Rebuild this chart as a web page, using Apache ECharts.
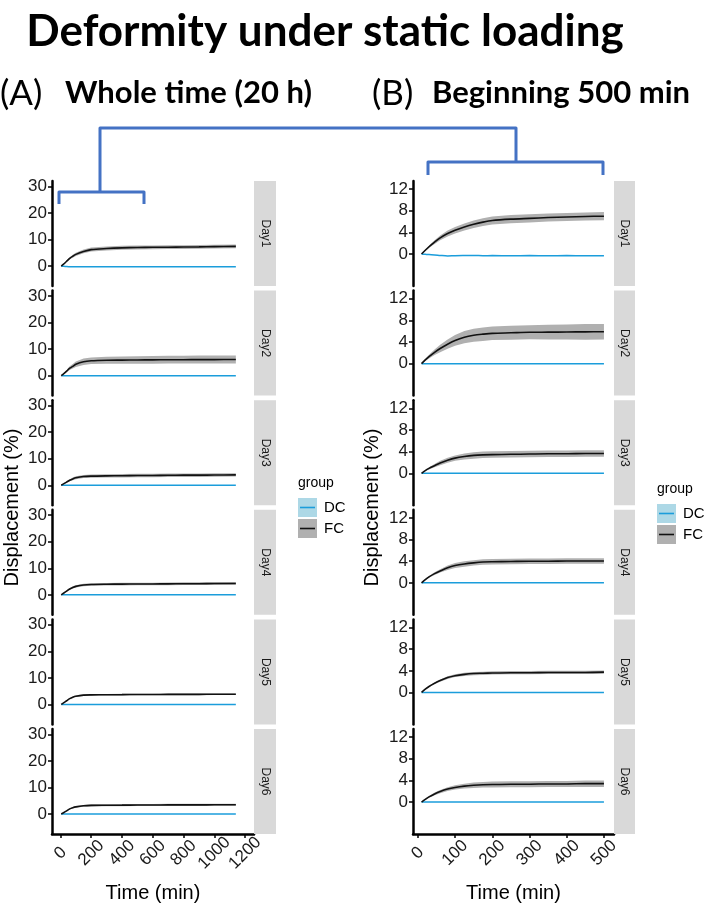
<!DOCTYPE html>
<html><head><meta charset="utf-8">
<script src="https://cdn.jsdelivr.net/npm/echarts@6/dist/echarts.min.js"></script>
<style>html,body{margin:0;padding:0;background:#fff}#c{width:709px;height:907px}</style>
</head><body><div id="c"></div>
<script>
// ---------- DATA ----------
const days = ['Day1', 'Day2', 'Day3', 'Day4', 'Day5', 'Day6'];
const groups = ['DC', 'FC'];

// Panel A: whole time (min)
const timeA = [5, 20, 40, 60, 80, 100, 150, 200, 300, 400, 500, 600, 700, 800, 900, 1000, 1140];
const fcMeanA = [
  [0, 0.7, 1.8, 2.9, 3.7, 4.4, 5.5, 6.2, 6.6, 6.85, 7.0, 7.05, 7.1, 7.15, 7.2, 7.3, 7.4],
  [0, 0.7, 1.7, 2.8, 3.5, 4.3, 5.25, 5.6, 5.8, 5.85, 5.9, 5.95, 6.0, 6.0, 6.05, 6.05, 6.1],
  [0, 0.5, 1.2, 1.9, 2.4, 2.8, 3.3, 3.45, 3.55, 3.6, 3.65, 3.7, 3.75, 3.8, 3.8, 3.85, 3.9],
  [0, 0.6, 1.4, 2.2, 2.8, 3.2, 3.7, 3.9, 4.0, 4.05, 4.1, 4.1, 4.15, 4.2, 4.2, 4.25, 4.3],
  [0, 0.6, 1.4, 2.2, 2.75, 3.1, 3.5, 3.6, 3.65, 3.7, 3.75, 3.75, 3.8, 3.8, 3.8, 3.85, 3.85],
  [0, 0.5, 1.2, 1.95, 2.4, 2.7, 3.1, 3.25, 3.3, 3.35, 3.4, 3.4, 3.45, 3.45, 3.45, 3.5, 3.5]
];
const fcHalfA = [
  [0, 0.15, 0.3, 0.45, 0.55, 0.6, 0.7, 0.75, 0.75, 0.75, 0.75, 0.7, 0.7, 0.7, 0.7, 0.7, 0.7],
  [0, 0.2, 0.45, 0.7, 0.85, 1.0, 1.2, 1.25, 1.3, 1.35, 1.45, 1.45, 1.45, 1.45, 1.5, 1.5, 1.5],
  [0, 0.1, 0.25, 0.4, 0.5, 0.55, 0.6, 0.6, 0.6, 0.65, 0.65, 0.65, 0.65, 0.65, 0.65, 0.65, 0.65],
  [0, 0.1, 0.2, 0.3, 0.4, 0.45, 0.5, 0.5, 0.5, 0.5, 0.5, 0.5, 0.5, 0.5, 0.5, 0.5, 0.5],
  [0, 0.05, 0.1, 0.15, 0.2, 0.25, 0.3, 0.3, 0.3, 0.3, 0.3, 0.3, 0.3, 0.3, 0.3, 0.3, 0.3],
  [0, 0.05, 0.15, 0.2, 0.25, 0.3, 0.35, 0.4, 0.4, 0.4, 0.4, 0.4, 0.4, 0.4, 0.4, 0.4, 0.4]
];
const dcMeanA = [
  [0, -0.1, -0.2, -0.25, -0.3, -0.3, -0.28, -0.3, -0.3, -0.28, -0.3, -0.3, -0.28, -0.3, -0.3, -0.3, -0.3],
  [0, 0, 0, 0, 0, 0, 0, 0, 0, 0, 0, 0, 0, 0, 0, 0, 0],
  [0, 0, 0, 0, 0, 0, 0, 0, 0, 0, 0, 0, 0, 0, 0, 0, 0],
  [0, 0, 0, 0, 0, 0, 0, 0, 0, 0, 0, 0, 0, 0, 0, 0, 0],
  [0, 0, 0, 0, 0, 0, 0, 0, 0, 0, 0, 0, 0, 0, 0, 0, 0],
  [0, 0, 0, 0, 0, 0, 0, 0, 0, 0, 0, 0, 0, 0, 0, 0, 0]
];

// Panel B: beginning 500 min
const timeB = [10, 20, 30, 45, 60, 80, 100, 125, 150, 175, 200, 250, 300, 350, 400, 450, 500];
const fcMeanB = [
  [0, 0.7, 1.35, 2.2, 3.0, 3.8, 4.4, 5.0, 5.5, 5.9, 6.2, 6.45, 6.6, 6.75, 6.85, 6.95, 7.0],
  [0, 0.7, 1.3, 2.1, 2.8, 3.6, 4.3, 4.9, 5.25, 5.45, 5.6, 5.7, 5.8, 5.82, 5.85, 5.88, 5.9],
  [0, 0.5, 0.9, 1.4, 1.9, 2.4, 2.8, 3.1, 3.3, 3.4, 3.45, 3.5, 3.55, 3.6, 3.6, 3.65, 3.65],
  [0, 0.6, 1.1, 1.7, 2.2, 2.8, 3.2, 3.5, 3.7, 3.85, 3.9, 3.95, 4.0, 4.0, 4.05, 4.05, 4.05],
  [0, 0.6, 1.1, 1.7, 2.2, 2.75, 3.1, 3.35, 3.5, 3.55, 3.6, 3.65, 3.65, 3.7, 3.7, 3.7, 3.75],
  [0, 0.5, 0.95, 1.5, 1.95, 2.4, 2.7, 2.95, 3.1, 3.2, 3.25, 3.3, 3.3, 3.35, 3.35, 3.4, 3.4]
];
const fcHalfB = [
  [0, 0.15, 0.25, 0.35, 0.45, 0.55, 0.6, 0.65, 0.7, 0.72, 0.75, 0.75, 0.75, 0.75, 0.75, 0.75, 0.75],
  [0, 0.2, 0.35, 0.5, 0.7, 0.85, 1.0, 1.15, 1.2, 1.25, 1.25, 1.3, 1.3, 1.35, 1.4, 1.45, 1.45],
  [0, 0.1, 0.2, 0.3, 0.4, 0.45, 0.5, 0.55, 0.6, 0.6, 0.6, 0.6, 0.6, 0.6, 0.6, 0.6, 0.6],
  [0, 0.1, 0.15, 0.25, 0.3, 0.4, 0.45, 0.5, 0.5, 0.5, 0.5, 0.5, 0.5, 0.5, 0.5, 0.5, 0.5],
  [0, 0.05, 0.1, 0.15, 0.2, 0.25, 0.25, 0.3, 0.3, 0.3, 0.3, 0.3, 0.3, 0.3, 0.3, 0.3, 0.3],
  [0, 0.1, 0.15, 0.25, 0.3, 0.35, 0.4, 0.45, 0.5, 0.5, 0.55, 0.55, 0.55, 0.55, 0.55, 0.6, 0.6]
];
const dcMeanB = [
  [0, -0.05, -0.1, -0.15, -0.25, -0.35, -0.3, -0.28, -0.27, -0.3, -0.28, -0.3, -0.28, -0.3, -0.28, -0.3, -0.3],
  [0, 0, 0, 0, 0, 0, 0, 0, 0, 0, 0, 0, 0, 0, 0, 0, 0],
  [0, 0, 0, 0, 0, 0, 0, 0, 0, 0, 0, 0, 0, 0, 0, 0, 0],
  [0, 0, 0, 0, 0, 0, 0, 0, 0, 0, 0, 0, 0, 0, 0, 0, 0],
  [0, 0, 0, 0, 0, 0, 0, 0, 0, 0, 0, 0, 0, 0, 0, 0, 0],
  [0, 0, 0, 0, 0, 0, 0, 0, 0, 0, 0, 0, 0, 0, 0, 0, 0]
];

const xTicksA = [0, 200, 400, 600, 800, 1000, 1200];
const yTicksA = [0, 10, 20, 30];
const xTicksB = [0, 100, 200, 300, 400, 500];
const yTicksB = [0, 4, 8, 12];

// ---------- LAYOUT / STYLE ----------
const FACET_TOP = 181, FACET_H = 105, FACET_STEP = 109.6;
const FONT = "'Liberation Sans', Arial, sans-serif";
const TITLE_FONT = "Lato, 'Open Sans', sans-serif";
const BLUE = '#4472C4';
const DC_COLOR = '#1B9DDB';
const FC_COLOR = '#111111';
const RIBBON = '#b0b0b0';

const panels = [
  { left: 52, width: 202, xMin: -55, xMax: 1258, yMin: -7.5, yMax: 32,
    t: timeA, fc: fcMeanA, hw: fcHalfA, dc: dcMeanA, xTicks: xTicksA, yTicks: yTicksA,
    stripX: 254, stripW: 22, legX: 298, legY: 483, yTitleX: 12 },
  { left: 413, width: 201, xMin: -13, xMax: 527, yMin: -5.9, yMax: 13.5,
    t: timeB, fc: fcMeanB, hw: fcHalfB, dc: dcMeanB, xTicks: xTicksB, yTicks: yTicksB,
    stripX: 614, stripW: 21, legX: 657, legY: 489, yTitleX: 372 }
];

const grid = [], xAxis = [], yAxis = [], series = [], graphic = [];

panels.forEach((p, pi) => {
  days.forEach((day, d) => {
    const gi = pi * days.length + d;
    const top = FACET_TOP + d * FACET_STEP;
    const isLast = d === days.length - 1;
    grid.push({ left: p.left, top: top, width: p.width, height: FACET_H });
    xAxis.push({
      type: 'value', gridIndex: gi, min: p.xMin, max: p.xMax, show: isLast,
      axisLine: { show: true, onZero: false, lineStyle: { color: '#000', width: 2.5 } },
      axisTick: { show: true, customValues: p.xTicks, length: 4, lineStyle: { color: '#000', width: 1.5 } },
      axisLabel: { customValues: p.xTicks, rotate: 45, fontSize: 17, color: '#1a1a1a', fontFamily: FONT, margin: 19,
        align: 'center', verticalAlign: 'middle', formatter: v => String(v) },
      splitLine: { show: false }
    });
    yAxis.push({
      type: 'value', gridIndex: gi, min: p.yMin, max: p.yMax,
      axisLine: { show: true, onZero: false, lineStyle: { color: '#000', width: 2.5 } },
      axisTick: { show: true, customValues: p.yTicks, length: 4, lineStyle: { color: '#000', width: 1.5 } },
      axisLabel: { customValues: p.yTicks, fontSize: 17, color: '#1a1a1a', fontFamily: FONT, margin: 5,
        formatter: v => String(v) },
      splitLine: { show: false }
    });
    const upper = p.t.map((x, i) => [x, p.fc[d][i] + p.hw[d][i]]);
    const lower = p.t.map((x, i) => [x, p.fc[d][i] - p.hw[d][i]]);
    series.push({
      type: 'custom', name: 'FC ribbon', coordinateSystem: 'cartesian2d',
      xAxisIndex: gi, yAxisIndex: gi, silent: true, clip: true, z: 1,
      data: [[p.t[0], p.fc[d][0]]],
      renderItem: (params, api) => {
        const pts = upper.map(v => api.coord(v)).concat(lower.slice().reverse().map(v => api.coord(v)));
        return { type: 'polygon', shape: { points: pts }, style: { fill: RIBBON } };
      }
    });
    series.push({
      type: 'line', name: 'DC', xAxisIndex: gi, yAxisIndex: gi,
      data: p.t.map((x, i) => [x, p.dc[d][i]]),
      symbol: 'none', smooth: 0.3, lineStyle: { color: DC_COLOR, width: 1.5 }, z: 3
    });
    series.push({
      type: 'line', name: 'FC', xAxisIndex: gi, yAxisIndex: gi,
      data: p.t.map((x, i) => [x, p.fc[d][i]]),
      symbol: 'none', smooth: 0.3, lineStyle: { color: FC_COLOR, width: 1.6 }, z: 4
    });
    // facet strip
    graphic.push({ type: 'rect', shape: { x: p.stripX, y: top, width: p.stripW, height: FACET_H },
      style: { fill: '#D9D9D9' }, z: 5 });
    graphic.push({ type: 'text', x: p.stripX + p.stripW / 2, y: top + FACET_H / 2, rotation: -Math.PI / 2,
      style: { text: day, fontSize: 12, fontFamily: FONT, fill: '#1a1a1a', align: 'center', verticalAlign: 'middle' }, z: 6 });
  });
  // axis titles
  const midY = (FACET_TOP + FACET_TOP + 5 * FACET_STEP + FACET_H) / 2;
  graphic.push({ type: 'text', x: p.yTitleX, y: midY, rotation: Math.PI / 2,
    style: { text: 'Displacement (%)', fontSize: 20, fontFamily: FONT, fill: '#000', align: 'center', verticalAlign: 'middle' } });
  graphic.push({ type: 'text', x: p.left + p.width / 2, y: 893,
    style: { text: 'Time (min)', fontSize: 20, fontFamily: FONT, fill: '#000', align: 'center', verticalAlign: 'middle' } });
  // legend
  graphic.push({ type: 'text', x: p.legX, y: p.legY,
    style: { text: 'group', fontSize: 14, fontFamily: FONT, fill: '#000', align: 'left', verticalAlign: 'middle' } });
  const keys = [
    { label: groups[0], fill: '#ADD8E6', line: DC_COLOR },
    { label: groups[1], fill: RIBBON, line: FC_COLOR }
  ];
  keys.forEach((k, ki) => {
    const ky = p.legY + 15 + ki * 21;
    graphic.push({ type: 'rect', shape: { x: p.legX, y: ky, width: 19, height: 19 }, style: { fill: k.fill } });
    graphic.push({ type: 'line', shape: { x1: p.legX + 2, y1: ky + 9.5, x2: p.legX + 17, y2: ky + 9.5 },
      style: { stroke: k.line, lineWidth: 1.6 } });
    graphic.push({ type: 'text', x: p.legX + 26, y: ky + 10,
      style: { text: k.label, fontSize: 15, fontFamily: FONT, fill: '#000', align: 'left', verticalAlign: 'middle' } });
  });
});

// titles
graphic.push({ type: 'text', x: 325, y: 32,
  style: { text: 'Deformity under static loading', fontSize: 44, fontWeight: 'bold', fontFamily: TITLE_FONT, fill: '#000', align: 'center', verticalAlign: 'middle' } });
graphic.push({ type: 'text', x: 0, y: 94,
  style: { text: '(A)', fontSize: 35, fontFamily: TITLE_FONT, fill: '#000', align: 'left', verticalAlign: 'middle' } });
graphic.push({ type: 'text', x: 65, y: 93,
  style: { text: 'Whole time (20 h)', fontSize: 31, fontWeight: 'bold', fontFamily: TITLE_FONT, fill: '#000', align: 'left', verticalAlign: 'middle' } });
graphic.push({ type: 'text', x: 372, y: 94,
  style: { text: '(B)', fontSize: 35, fontFamily: TITLE_FONT, fill: '#000', align: 'left', verticalAlign: 'middle' } });
graphic.push({ type: 'text', x: 432, y: 93,
  style: { text: 'Beginning 500 min', fontSize: 31, fontWeight: 'bold', fontFamily: TITLE_FONT, fill: '#000', align: 'left', verticalAlign: 'middle' } });

// brackets
const bStyle = { stroke: BLUE, lineWidth: 3, lineJoin: 'round', lineCap: 'butt', fill: null };
graphic.push({ type: 'polyline', shape: { points: [[100, 192], [100, 128], [516, 128], [516, 162]] }, style: bStyle, z: 10 });
graphic.push({ type: 'polyline', shape: { points: [[59, 204], [59, 192], [144, 192], [144, 204]] }, style: bStyle, z: 10 });
graphic.push({ type: 'polyline', shape: { points: [[428, 175], [428, 162], [603, 162], [603, 175]] }, style: bStyle, z: 10 });

const chart = echarts.init(document.getElementById('c'), null, { renderer: 'canvas' });
chart.setOption({
  animation: false,
  backgroundColor: '#fff',
  grid, xAxis, yAxis, series, graphic
});
</script>
</body></html>
